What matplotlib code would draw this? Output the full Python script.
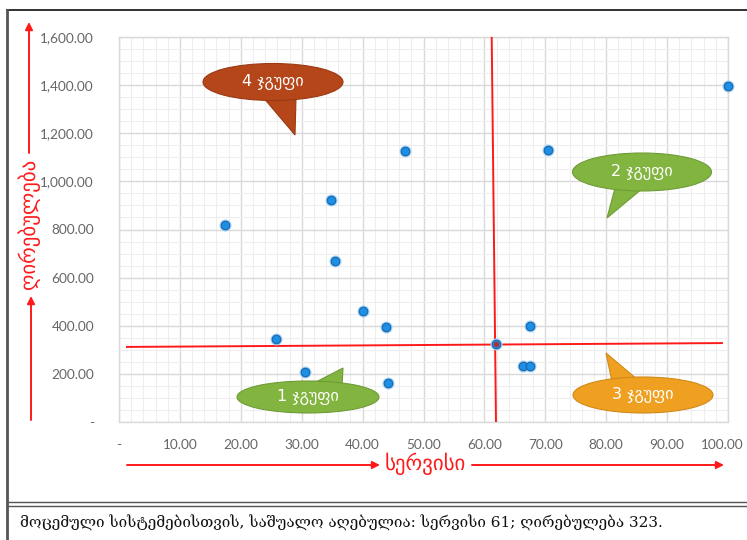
import matplotlib
matplotlib.use("Agg")
import matplotlib.pyplot as plt
from matplotlib.patches import Ellipse, Polygon
from matplotlib.ticker import MultipleLocator, FuncFormatter
from matplotlib.transforms import ScaledTranslation

# მონაცემები (სერვისი, ღირებულება)
servisi = [17.4, 25.8, 30.5, 34.8, 35.5, 40.1, 43.8, 44.2, 47.0, 66.3, 67.5, 67.5, 70.4, 100.0]
girebuleba = [818, 345, 208, 923, 669, 461, 395, 164, 1126, 233, 233, 399, 1130, 1398]
mean_x, mean_y = 61.9, 324
# საშუალოს ხაზები (ხელით დახატული, ოდნავ დახრილი)
hline_x = [1.3, 99.0]
hline_y = [312, 328]
vline_x = [61.2, 61.9]
vline_y = [1600, 4]

x_label = "სერვისი"
y_label = "ღირებულება"
caption = "მოცემული სისტემებისთვის, საშუალო აღებულია: სერვისი 61; ღირებულება 323."
groups = ["4 ჯგუფი", "2 ჯგუფი", "3 ჯგუფი", "1 ჯგუფი"]

W, H = 747, 540
fig = plt.figure(figsize=(W / 100, H / 100), dpi=100)

# ძირითადი ღერძები
ax = fig.add_axes([119 / W, 1 - 422 / H, (728 - 119) / W, (422 - 37) / H])
ax.set_xlim(0, 100)
ax.set_ylim(0, 1600)
ax.xaxis.set_major_locator(MultipleLocator(10))
ax.xaxis.set_minor_locator(MultipleLocator(2))
ax.yaxis.set_major_locator(MultipleLocator(200))
ax.yaxis.set_minor_locator(MultipleLocator(50))
ax.grid(which='major', color='#d9d9d9', lw=1.0)
ax.grid(which='minor', color='#eeeeee', lw=0.8)
ax.set_axisbelow(True)
for s in ax.spines.values():
    s.set_color('#d9d9d9')
    s.set_linewidth(1.0)

def fmt(v, pos):
    if abs(v) < 1e-9:
        return "-"
    return f"{v:,.2f}"

ax.xaxis.set_major_formatter(FuncFormatter(fmt))
ax.yaxis.set_major_formatter(FuncFormatter(fmt))
ax.tick_params(which='both', length=0)
ax.tick_params(axis='x', pad=12)
ax.tick_params(axis='y', pad=18)

ax.plot(hline_x, hline_y, color='#ff1a1a', lw=1.4, zorder=3)
ax.plot(vline_x, vline_y, color='#ff1a1a', lw=1.4, zorder=3)

ax.scatter(servisi + [mean_x], girebuleba + [mean_y], s=75, color='#a9d3f3', zorder=4,
           linewidths=0, clip_on=False)
ax.scatter(servisi + [mean_x], girebuleba + [mean_y], s=38, facecolor='#1e8fe3',
           edgecolor='#1466b0', linewidths=0.8, zorder=5, clip_on=False)
ax.plot([mean_x], [mean_y], marker='o', ms=3, color='#b0303a', zorder=6)

# ზედა შრე: ჩარჩო, ისრები, წარწერები (პიქსელებში)
ov = fig.add_axes([0, 0, 1, 1], facecolor='none')
ov.set_xlim(0, W)
ov.set_ylim(H, 0)
ov.axis('off')

ov.plot([7, W], [10, 10], color='#222222', lw=1.3)
ov.plot([7, 7], [10, H], color='#555555', lw=2.0)
ov.plot([7, W], [502, 502], color='#555555', lw=1.0)
ov.plot([7, W], [505.5, 505.5], color='#555555', lw=1.0)

arrow = dict(arrowstyle='-|>', color='#ff1a1a', lw=1.4, mutation_scale=11, shrinkA=0, shrinkB=0)
ov.annotate("", xy=(29, 22), xytext=(29, 153), arrowprops=arrow)
ov.annotate("", xy=(31, 296), xytext=(31, 420), arrowprops=arrow)
ov.text(29, 224, y_label, rotation=90, color='#ff1a1a', fontsize=15,
        ha='center', va='center', family='DejaVu Sans')
ov.annotate("", xy=(380, 465), xytext=(127, 465), arrowprops=arrow)
ov.annotate("", xy=(724, 465), xytext=(472, 465), arrowprops=arrow)
ov.text(425, 464, x_label, color='#ff1a1a', fontsize=15, ha='center', va='center',
        family='DejaVu Sans')

ov.text(20, 523, caption, fontsize=11, ha='left', va='center', color='#111111',
        family=['DejaVu Serif', 'DejaVu Sans'])

# ჯგუფების ბუშტები: ცენტრი, ზომა, კუდი, ფერი
bubbles = [
    ((273, 82), 140, 37, [(262, 96), (296, 98), (295, 135)], '#b5461a', '#9a3a14'),
    ((642, 172), 139, 38, [(615, 188), (643, 188), (607, 218)], '#82b440', '#6f9c36'),
    ((643, 395), 140, 36, [(612, 382), (638, 380), (606, 353)], '#efa021', '#d08a19'),
    ((308, 397), 142, 32, [(312, 384), (342, 386), (343, 368)], '#82b440', '#6f9c36'),
]
for (c, w, h, tail, fc, ec), name in zip(bubbles, groups):
    ov.add_patch(Polygon(tail, closed=True, facecolor=fc, edgecolor=ec, lw=0.8, zorder=7))
    ov.add_patch(Ellipse(c, w, h, facecolor=fc, edgecolor=ec, lw=0.8, zorder=8))
    ov.add_patch(Polygon([(tail[0][0] + 1, tail[0][1]), (tail[1][0] - 1, tail[1][1]),
                          ((tail[0][0] + tail[1][0]) / 2, c[1])],
                         closed=True, facecolor=fc, edgecolor='none', zorder=9))
    ov.text(c[0], c[1], name, color='white', fontsize=11.5, ha='center', va='center',
            family='DejaVu Sans', zorder=10)

# ტიკების წარწერები - დახატვის შემდეგ, რომ ბოლო წარწერა გადავწიოთ
fig.canvas.draw()
for lab in ax.get_xticklabels() + ax.get_yticklabels():
    lab.set_fontfamily('Lato')
    lab.set_fontsize(9.8)
    lab.set_color('#666666')
for tick in ax.xaxis.get_major_ticks():
    if abs(tick.get_loc() - 100) < 1e-6:
        lab = tick.label1
        lab.set_transform(lab.get_transform() + ScaledTranslation(-6 / 100, 0, fig.dpi_scale_trans))

fig.savefig("out.png", dpi=100)
